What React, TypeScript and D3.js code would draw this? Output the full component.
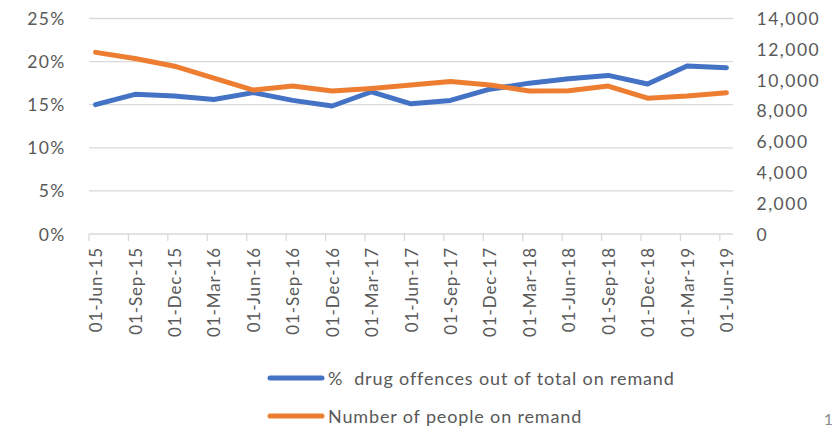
import React from "react";
import * as d3 from "d3";

const categories = [
  "01-Jun-15", "01-Sep-15", "01-Dec-15", "01-Mar-16", "01-Jun-16", "01-Sep-16",
  "01-Dec-16", "01-Mar-17", "01-Jun-17", "01-Sep-17", "01-Dec-17", "01-Mar-18",
  "01-Jun-18", "01-Sep-18", "01-Dec-18", "01-Mar-19", "01-Jun-19",
];
const pctDrug = [
  0.150, 0.162, 0.160, 0.156, 0.164, 0.155, 0.1485, 0.165, 0.151, 0.155,
  0.168, 0.175, 0.180, 0.184, 0.174, 0.195, 0.193,
];
const numRemand = [
  11800, 11400, 10900, 10120, 9350, 9610, 9290, 9460, 9680, 9900,
  9680, 9290, 9310, 9610, 8820, 8970, 9180,
];
const leftTicks = [0, 0.05, 0.1, 0.15, 0.2, 0.25];
const rightTicks = [0, 2000, 4000, 6000, 8000, 10000, 12000, 14000];
const seriesNames = ["%  drug offences out of total on remand", "Number of people on remand"];
const colors = ["#4472C4", "#ED7D31"];

const W = 835;
const H = 428;
const left = 89;
const right = 733;
const top = 18.5;
const bottom = 234;
const totalMonths = (categories.length - 1) * 3 + 1;

export default function App() {
  const x = d3.scaleLinear().domain([0, totalMonths]).range([left, right]);
  const yL = d3.scaleLinear().domain([0, 0.25]).range([bottom, top]);
  const yR = d3.scaleLinear().domain([0, 14000]).range([bottom, top]);
  const px = (i: number) => x(i * 3 + 0.5);

  const lineL = d3.line<number>().x((_, i) => px(i)).y((d) => yL(d));
  const lineR = d3.line<number>().x((_, i) => px(i)).y((d) => yR(d));

  const font = "Lato, 'Open Sans', sans-serif";
  const txt = "#595959";
  const pctFmt = d3.format(".0%");
  const numFmt = d3.format(",");

  return (
    <svg width={W} height={H} style={{ position: "absolute", left: 0, top: 0, background: "#fff" }}>
      {leftTicks.map((t) => (
        <line key={"g" + t} x1={left} x2={right} y1={yL(t)} y2={yL(t)} stroke="#D9D9D9" strokeWidth={1.3} />
      ))}
      {categories.map((_, i) => (
        <line key={"t" + i} x1={x(i * 3)} x2={x(i * 3)} y1={bottom} y2={bottom + 7} stroke="#D9D9D9" strokeWidth={1.3} />
      ))}
      {leftTicks.map((t) => (
        <text key={"l" + t} x={65.5} y={yL(t)} textAnchor="end" dominantBaseline="central"
          fontFamily={font} fontSize={17.5} fill={txt} letterSpacing={1.3}>{pctFmt(t)}</text>
      ))}
      {rightTicks.map((t) => (
        <text key={"r" + t} x={756.5} y={yR(t)} textAnchor="start" dominantBaseline="central"
          fontFamily={font} fontSize={17.5} fill={txt} letterSpacing={1.5}>{numFmt(t)}</text>
      ))}
      {categories.map((c, i) => (
        <text key={"c" + i} transform={`translate(${px(i)},247) rotate(-90)`} textAnchor="end"
          dominantBaseline="central" fontFamily={font} fontSize={17} fill={txt} letterSpacing={0.9}>{c}</text>
      ))}
      <path d={lineL(pctDrug) || ""} fill="none" stroke={colors[0]} strokeWidth={5} strokeLinejoin="round" strokeLinecap="round" />
      <path d={lineR(numRemand) || ""} fill="none" stroke={colors[1]} strokeWidth={5} strokeLinejoin="round" strokeLinecap="round" />
      {seriesNames.map((s, i) => {
        const ly = 378 + i * 38;
        return (
          <g key={"lg" + i}>
            <line x1={270} x2={322} y1={ly} y2={ly} stroke={colors[i]} strokeWidth={5} strokeLinecap="round" />
            <text x={328} y={ly} dominantBaseline="central" fontFamily={font} fontSize={18} fill={txt}
              letterSpacing={0.85} style={{ whiteSpace: "pre" }}>{s}</text>
          </g>
        );
      })}
      <text x={833} y={425} textAnchor="end" fontFamily={font} fontSize={16} fill="#8C8C8C">1</text>
    </svg>
  );
}
